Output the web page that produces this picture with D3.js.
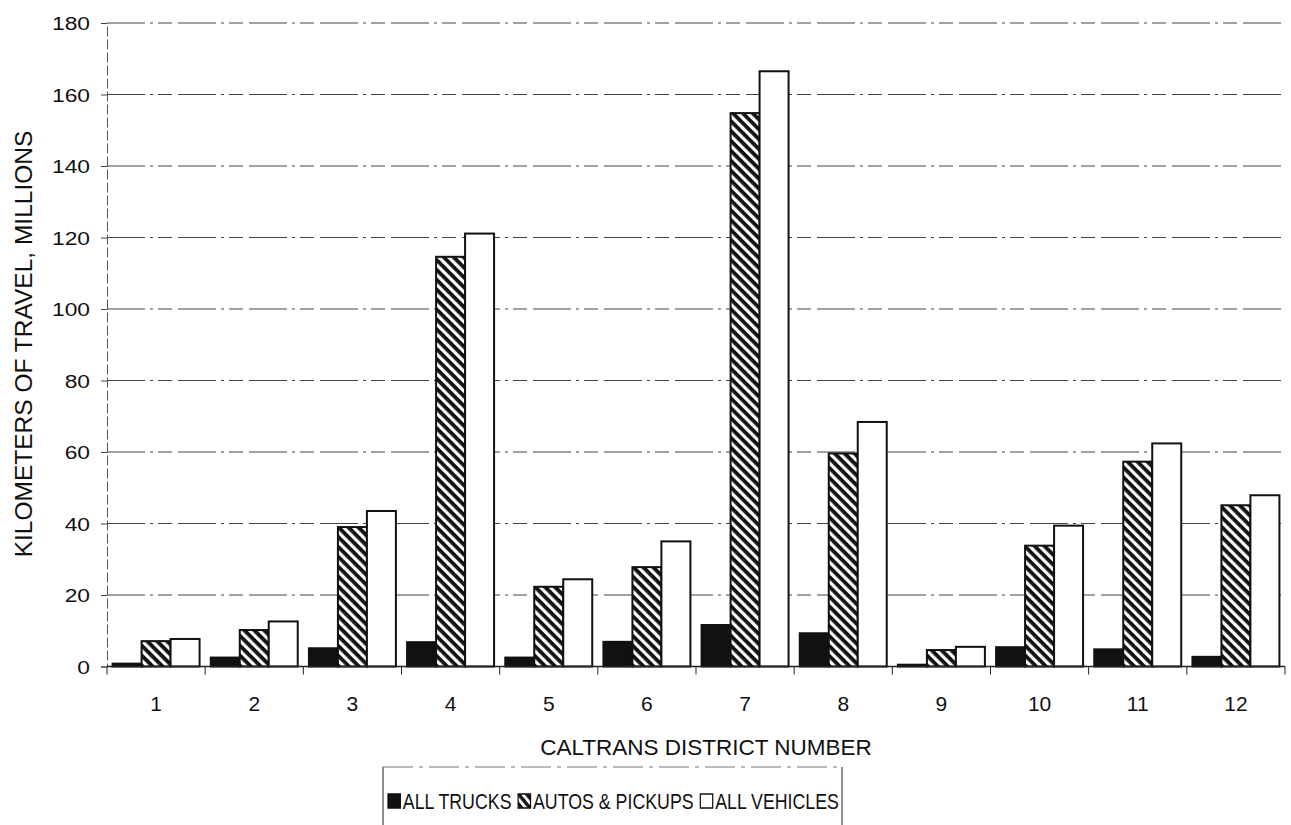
<!DOCTYPE html>
<html><head><meta charset="utf-8">
<script src="https://cdn.jsdelivr.net/npm/d3@7"></script>
<style>html,body{margin:0;padding:0;background:#fff;}svg{display:block;font-family:"Liberation Sans",Arial,sans-serif;}</style>
</head><body>
<svg id="c" width="1291" height="825"></svg>
<script>
const districts = ["1","2","3","4","5","6","7","8","9","10","11","12"];
const seriesNames = ["ALL TRUCKS","AUTOS & PICKUPS","ALL VEHICLES"];
const allTrucks = [0.8, 2.5, 5.1, 6.8, 2.5, 6.9, 11.6, 9.3, 0.5, 5.4, 4.8, 2.7];
const autosPickups = [7.1, 10.2, 39.0, 114.6, 22.3, 27.8, 154.8, 59.6, 4.6, 33.8, 57.3, 45.1];
const allVehicles = [7.7, 12.6, 43.5, 121.1, 24.4, 35.0, 166.5, 68.4, 5.5, 39.4, 62.4, 47.9];
const yTicks = [0,20,40,60,80,100,120,140,160,180];

const svg = d3.select("#c");
const L = 107, R = 1285, T = 23, B = 666.5;

const defs = svg.append("defs");
const pat = defs.append("pattern").attr("id","hatch").attr("patternUnits","userSpaceOnUse")
  .attr("width",7).attr("height",7).attr("patternTransform","rotate(-45)");
pat.append("rect").attr("width",7).attr("height",7).attr("fill","#111");
pat.append("rect").attr("x",0).attr("width",3.2).attr("height",7).attr("fill","#fff");

const fills = ["#111","url(#hatch)","#fff"];

const x0 = d3.scaleBand().domain(districts).range([L,R]).paddingInner(0.114).paddingOuter(0.057);
const x1 = d3.scaleBand().domain(seriesNames).range([0,x0.bandwidth()]);
const y = d3.scaleLinear().domain([0,180]).range([B,T]);

// gridlines
svg.append("g").selectAll("line").data(yTicks.filter(d=>d>0)).join("line")
  .attr("x1",L).attr("x2",R).attr("y1",d=>y(d)).attr("y2",d=>y(d))
  .attr("stroke","#444").attr("stroke-width",1)
  .attr("stroke-dasharray","38,5,3,5,14,6");

// y axis
const yAxis = d3.axisLeft(y).tickValues(yTicks).tickSize(6).tickFormat("");
const gy = svg.append("g").attr("transform",`translate(${L},0)`).call(yAxis);
gy.select(".domain").attr("stroke","#555").attr("stroke-dasharray","10,3");
gy.selectAll(".tick line").attr("stroke","#444");
svg.append("g").selectAll("text").data(yTicks).join("text")
  .attr("transform",d=>`translate(90,${y(d)+7}) scale(1.2,1)`)
  .attr("text-anchor","end").attr("font-size",19).attr("fill","#111").text(d=>d);

// bars
const data = districts.map((d,i)=>({d, vals:[allTrucks[i],autosPickups[i],allVehicles[i]]}));
const groups = svg.append("g").selectAll("g").data(data).join("g")
  .attr("transform",d=>`translate(${x0(d.d)},0)`);
groups.selectAll("rect").data(d=>d.vals.map((v,j)=>({v,j}))).join("rect")
  .attr("x",d=>x1(seriesNames[d.j])).attr("width",x1.bandwidth())
  .attr("y",d=>y(d.v)).attr("height",d=>B-y(d.v))
  .attr("fill",d=>fills[d.j]).attr("stroke","#111").attr("stroke-width",2);

// x axis
const gx = svg.append("g").attr("transform",`translate(0,${B})`);
gx.append("line").attr("x1",L).attr("x2",R).attr("stroke","#222").attr("stroke-width",1.5);
const step = x0.step();
gx.selectAll("line.tk").data(d3.range(districts.length+1)).join("line").attr("class","tk")
  .attr("x1",i=>L+i*step).attr("x2",i=>L+i*step).attr("y1",0).attr("y2",8).attr("stroke","#222");
gx.selectAll("text").data(districts).join("text")
  .attr("x",d=>x0(d)+x0.bandwidth()/2).attr("y",44.5)
  .attr("text-anchor","middle").attr("font-size",21).attr("fill","#111").text(d=>d);

// axis titles
svg.append("text").attr("x",706).attr("y",755).attr("text-anchor","middle")
  .attr("font-size",22.5).attr("fill","#111").text("CALTRANS DISTRICT NUMBER");
svg.append("text").attr("transform","translate(32,344) rotate(-90)").attr("text-anchor","middle")
  .attr("font-size",24.5).attr("fill","#111").text("KILOMETERS OF TRAVEL, MILLIONS");

// legend
const lg = svg.append("g");
lg.append("line").attr("x1",383).attr("x2",383).attr("y1",767).attr("y2",825).attr("stroke","#222");
lg.append("line").attr("x1",842).attr("x2",842).attr("y1",767).attr("y2",825).attr("stroke","#222");
lg.append("line").attr("x1",383).attr("x2",842).attr("y1",767).attr("y2",767).attr("stroke","#777").attr("stroke-dasharray","30,6,4,6");
const items = lg.append("g");
let lx = 0;
seriesNames.forEach((s,i)=>{
  items.append("rect").attr("x",lx).attr("y",794).attr("width",15).attr("height",14)
    .attr("fill",fills[i]).attr("stroke","#111").attr("stroke-width",1.5);
  const t = items.append("text").attr("x",lx+18).attr("y",809).attr("font-size",21.5).attr("fill","#111").text(s);
  lx = lx + 18 + t.node().getComputedTextLength() + (i<2 ? 8 : 0);
});
const k = (839 - 388) / lx;
items.attr("transform",`translate(388,0) scale(${k},1)`);
</script>
</body></html>
